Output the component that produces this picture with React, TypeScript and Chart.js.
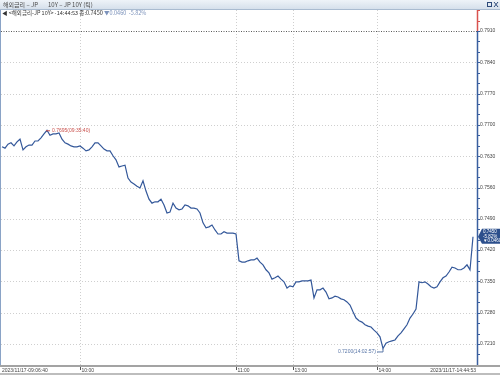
import React, { useEffect, useRef } from 'react';
import { Chart, registerables } from 'chart.js';

Chart.register(...registerables);

// ---- data (tick-by-tick JP 10Y yield, 2023/11/17) ----
const yields: number[] = [
  0.7651, 0.7648, 0.7657, 0.7660, 0.7653, 0.7662, 0.7668, 0.7644, 0.7651, 0.7655,
  0.7655, 0.7664, 0.7664, 0.7671, 0.7680, 0.7688, 0.7677, 0.7680, 0.7680, 0.7682,
  0.7668, 0.7660, 0.7657, 0.7653, 0.7651, 0.7651, 0.7653, 0.7648, 0.7642, 0.7644,
  0.7651, 0.7660, 0.7660, 0.7653, 0.7646, 0.7642, 0.7642, 0.7631, 0.7622, 0.7606,
  0.7608, 0.7610, 0.7581, 0.7572, 0.7568, 0.7563, 0.7559, 0.7575, 0.7552, 0.7534,
  0.7525, 0.7528, 0.7528, 0.7534, 0.7521, 0.7503, 0.7505, 0.7525, 0.7514, 0.7510,
  0.7512, 0.7521, 0.7519, 0.7514, 0.7514, 0.7512, 0.7503, 0.7481, 0.7470, 0.7472,
  0.7476, 0.7465, 0.7456, 0.7456, 0.7461, 0.7458, 0.7458, 0.7458, 0.7456, 0.7396,
  0.7393, 0.7393, 0.7396, 0.7398, 0.7398, 0.7402, 0.7393, 0.7387, 0.7376, 0.7369,
  0.7355, 0.7358, 0.7362, 0.7355, 0.7349, 0.7335, 0.7340, 0.7338, 0.7349, 0.7349,
  0.7351, 0.7351, 0.7351, 0.7353, 0.7313, 0.7331, 0.7331, 0.7335, 0.7326, 0.7311,
  0.7313, 0.7317, 0.7315, 0.7311, 0.7309, 0.7304, 0.7297, 0.7282, 0.7268, 0.7262,
  0.7259, 0.7253, 0.7250, 0.7248, 0.7241, 0.7235, 0.7226, 0.7200, 0.7212, 0.7215,
  0.7217, 0.7219, 0.7228, 0.7235, 0.7244, 0.7253, 0.7268, 0.7277, 0.7288, 0.7349,
  0.7347, 0.7349, 0.7344, 0.7338, 0.7335, 0.7338, 0.7349, 0.7358, 0.7362, 0.7371,
  0.7382, 0.7380, 0.7376, 0.7376, 0.7380, 0.7387, 0.7376, 0.7450,
];

const xTickIndex: number[] = [26, 78, 97, 125];
const xTickLabels: string[] = ['10:00', '11:00', '13:00', '14:00'];
const startLabel = '2023/11/17-09:06:40';
const endLabel = '2023/11/17-14:44:53';

const yTickValues: number[] = [0.7210, 0.7280, 0.7350, 0.7420, 0.7490, 0.7560, 0.7630, 0.7700, 0.7770, 0.7840, 0.7910];
const yMin = 0.7163;
const yMax = 0.7957;

const prevClose = 0.7910;
const lastValue = 0.7450;
const lastChange = '▼0.0460';
const lastPct = '-5.82%';

const highIndex = 15;
const highLabel = '0.7695(09:35:40)';
const lowIndex = 127;
const lowLabel = '0.7200(14:02:57)';

const titleLeft = '해외금리 – JP';
const titleRight = '10Y – JP 10Y (틱)';
const infoMain = '◀ <해외금리-JP 10Y>·14:44:53 종:0.7450 ';
const infoChange = '▼0.0460  -5.82%';

const FONT = '"Liberation Sans", Arial, sans-serif';
const KFONT = '"Noto Sans CJK KR", "Liberation Sans", sans-serif';

const decor = {
  id: 'decor',
  beforeDatasetsDraw(chart: any) {
    const { ctx, chartArea: ca, scales } = chart;
    const x = scales.x, y = scales.y;
    ctx.save();
    ctx.lineWidth = 1;
    ctx.strokeStyle = '#cfcfcf';
    ctx.setLineDash([1, 2]);
    for (const v of yTickValues) {
      if (v === prevClose) continue;
      const py = Math.round(y.getPixelForValue(v)) + 0.5;
      ctx.beginPath(); ctx.moveTo(ca.left, py); ctx.lineTo(ca.right, py); ctx.stroke();
    }
    for (const i of xTickIndex) {
      const px = Math.round(x.getPixelForValue(i)) + 0.5;
      ctx.beginPath(); ctx.moveTo(px, ca.top); ctx.lineTo(px, ca.bottom); ctx.stroke();
    }
    // previous close reference line
    const pc = Math.round(y.getPixelForValue(prevClose)) + 0.5;
    ctx.strokeStyle = '#5a5a5a';
    ctx.setLineDash([1, 1.5]);
    ctx.beginPath(); ctx.moveTo(ca.left, pc); ctx.lineTo(ca.right, pc); ctx.stroke();
    ctx.restore();
  },
  afterDraw(chart: any) {
    const { ctx, chartArea: ca, scales, width, height } = chart;
    const x = scales.x, y = scales.y;
    ctx.save();
    ctx.setLineDash([]);

    // title bar
    const g = ctx.createLinearGradient(0, 0, 0, 10);
    g.addColorStop(0, '#eef3f8');
    g.addColorStop(1, '#d3deea');
    ctx.fillStyle = g;
    ctx.fillRect(0, 0, width, 10);
    ctx.fillStyle = '#a9bbd0';
    ctx.fillRect(0, 9, width, 1);
    ctx.font = `6px ${KFONT}`;
    ctx.fillStyle = '#4a4a4a';
    ctx.textBaseline = 'middle';
    ctx.textAlign = 'left';
    ctx.fillText(titleLeft, 3, 5);
    ctx.fillText(titleRight, 48, 5);
    // window icons
    ctx.strokeStyle = '#2d4a7a';
    ctx.lineWidth = 1;
    ctx.strokeRect(487.5, 2.5, 4, 4);
    ctx.beginPath();
    ctx.moveTo(494, 2); ctx.lineTo(498, 7); ctx.moveTo(498, 2); ctx.lineTo(494, 7);
    ctx.stroke();

    // info line
    ctx.font = `5.5px ${KFONT}`;
    ctx.fillStyle = '#333';
    ctx.fillText(infoMain, 2, 13);
    const w = ctx.measureText(infoMain).width;
    ctx.fillStyle = '#7d93bb';
    ctx.fillText(infoChange, 2 + w, 13);

    // left border
    ctx.fillStyle = '#8aa3c6';
    ctx.fillRect(0, ca.top, 1, ca.bottom - ca.top);

    // right axis: red above previous close, blue below
    const pc = y.getPixelForValue(prevClose);
    ctx.lineWidth = 1.5;
    ctx.strokeStyle = '#d9534f';
    ctx.beginPath(); ctx.moveTo(ca.right + 0.5, ca.top); ctx.lineTo(ca.right + 0.5, pc); ctx.stroke();
    ctx.strokeStyle = '#3a5f9f';
    ctx.beginPath(); ctx.moveTo(ca.right + 0.5, pc); ctx.lineTo(ca.right + 0.5, ca.bottom); ctx.stroke();
    // minor ticks
    ctx.lineWidth = 1;
    const step = (yTickValues[1] - yTickValues[0]) / 3;
    for (let v = yTickValues[0] - step * 2; v < yMax; v += step) {
      const py = Math.round(y.getPixelForValue(v)) + 0.5;
      if (py < ca.top || py > ca.bottom) continue;
      ctx.strokeStyle = py < pc ? '#d9534f' : '#3a5f9f';
      ctx.beginPath(); ctx.moveTo(ca.right + 1, py); ctx.lineTo(ca.right + 3, py); ctx.stroke();
    }
    // y labels
    ctx.font = `5px ${FONT}`;
    ctx.fillStyle = '#444';
    ctx.textAlign = 'left';
    ctx.textBaseline = 'middle';
    for (const v of yTickValues) {
      ctx.fillText(v.toFixed(4), ca.right + 3, y.getPixelForValue(v));
    }

    // x axis
    ctx.fillStyle = '#a3a3a3';
    ctx.fillRect(0, ca.bottom, width, 2);
    ctx.fillStyle = '#bdbdbd';
    ctx.fillRect(0, height - 2, width, 2);
    ctx.fillStyle = '#444';
    ctx.font = `5px ${FONT}`;
    ctx.textBaseline = 'middle';
    ctx.textAlign = 'left';
    ctx.fillText(startLabel, 2, ca.bottom + 5.5);
    ctx.strokeStyle = '#555';
    for (let k = 0; k < xTickIndex.length; k++) {
      const px = Math.round(x.getPixelForValue(xTickIndex[k])) + 0.5;
      ctx.beginPath(); ctx.moveTo(px, ca.bottom + 2); ctx.lineTo(px, ca.bottom + 5); ctx.stroke();
      ctx.fillText(xTickLabels[k], px + 1, ca.bottom + 5.5);
    }
    ctx.textAlign = 'right';
    ctx.fillText(endLabel, ca.right - 1, ca.bottom + 5.5);

    // high / low annotations
    const meta = chart.getDatasetMeta(0);
    const hp = meta.data[highIndex];
    ctx.strokeStyle = '#c9504c';
    ctx.lineWidth = 1;
    ctx.beginPath(); ctx.moveTo(hp.x - 1, hp.y + 0.5); ctx.lineTo(hp.x + 3, hp.y + 0.5); ctx.stroke();
    ctx.fillStyle = '#c9504c';
    ctx.textAlign = 'left';
    ctx.font = `5px ${FONT}`;
    ctx.fillText(highLabel, hp.x + 5, hp.y + 0.5);

    const lp = meta.data[lowIndex];
    const ly = lp.y + 3.5;
    ctx.strokeStyle = '#5a77a8';
    ctx.beginPath(); ctx.moveTo(lp.x - 6, ly); ctx.lineTo(lp.x, ly); ctx.lineTo(lp.x, lp.y); ctx.stroke();
    ctx.fillStyle = '#5a77a8';
    ctx.textAlign = 'right';
    ctx.fillText(lowLabel, lp.x - 7, ly);

    // last value box
    const vy = y.getPixelForValue(lastValue);
    ctx.fillStyle = '#2c4f8c';
    ctx.beginPath();
    ctx.moveTo(ca.right + 1, vy);
    ctx.lineTo(ca.right + 5, vy - 8);
    ctx.lineTo(width, vy - 8);
    ctx.lineTo(width, vy + 7);
    ctx.lineTo(ca.right + 5, vy + 7);
    ctx.closePath();
    ctx.fill();
    ctx.fillStyle = '#ffffff';
    ctx.textAlign = 'left';
    ctx.font = `4.5px ${FONT}`;
    ctx.fillText(lastValue.toFixed(4), ca.right + 6, vy - 5);
    ctx.fillText(lastPct, ca.right + 6, vy);
    ctx.fillText(lastChange, ca.right + 6, vy + 4.5);

    ctx.restore();
  },
};

export default function App() {
  const ref = useRef<HTMLCanvasElement | null>(null);
  useEffect(() => {
    if (!ref.current) return;
    const chart = new Chart(ref.current, {
      type: 'line',
      data: {
        labels: yields.map((_, i) => i),
        datasets: [
          {
            data: yields.map((v, i) => ({ x: i, y: v })),
            borderColor: '#34589a',
            borderWidth: 1.2,
            pointRadius: 0,
            tension: 0,
            fill: false,
          },
        ],
      },
      options: {
        animation: false,
        responsive: false,
        devicePixelRatio: 1,
        layout: { padding: { top: 10, left: 1, right: 23, bottom: 10 } },
        plugins: { legend: { display: false }, tooltip: { enabled: false } },
        scales: {
          x: { type: 'linear', display: false, min: -1 / 3, max: yields.length + 1 / 3 },
          y: { type: 'linear', display: false, min: yMin, max: yMax },
        },
      },
      plugins: [decor],
    });
    return () => chart.destroy();
  }, []);
  return (
    <div style={{ position: 'fixed', left: 0, top: 0, width: 500, height: 375, background: '#fff' }}>
      <canvas ref={ref} width={500} height={375} style={{ display: 'block' }} />
    </div>
  );
}
